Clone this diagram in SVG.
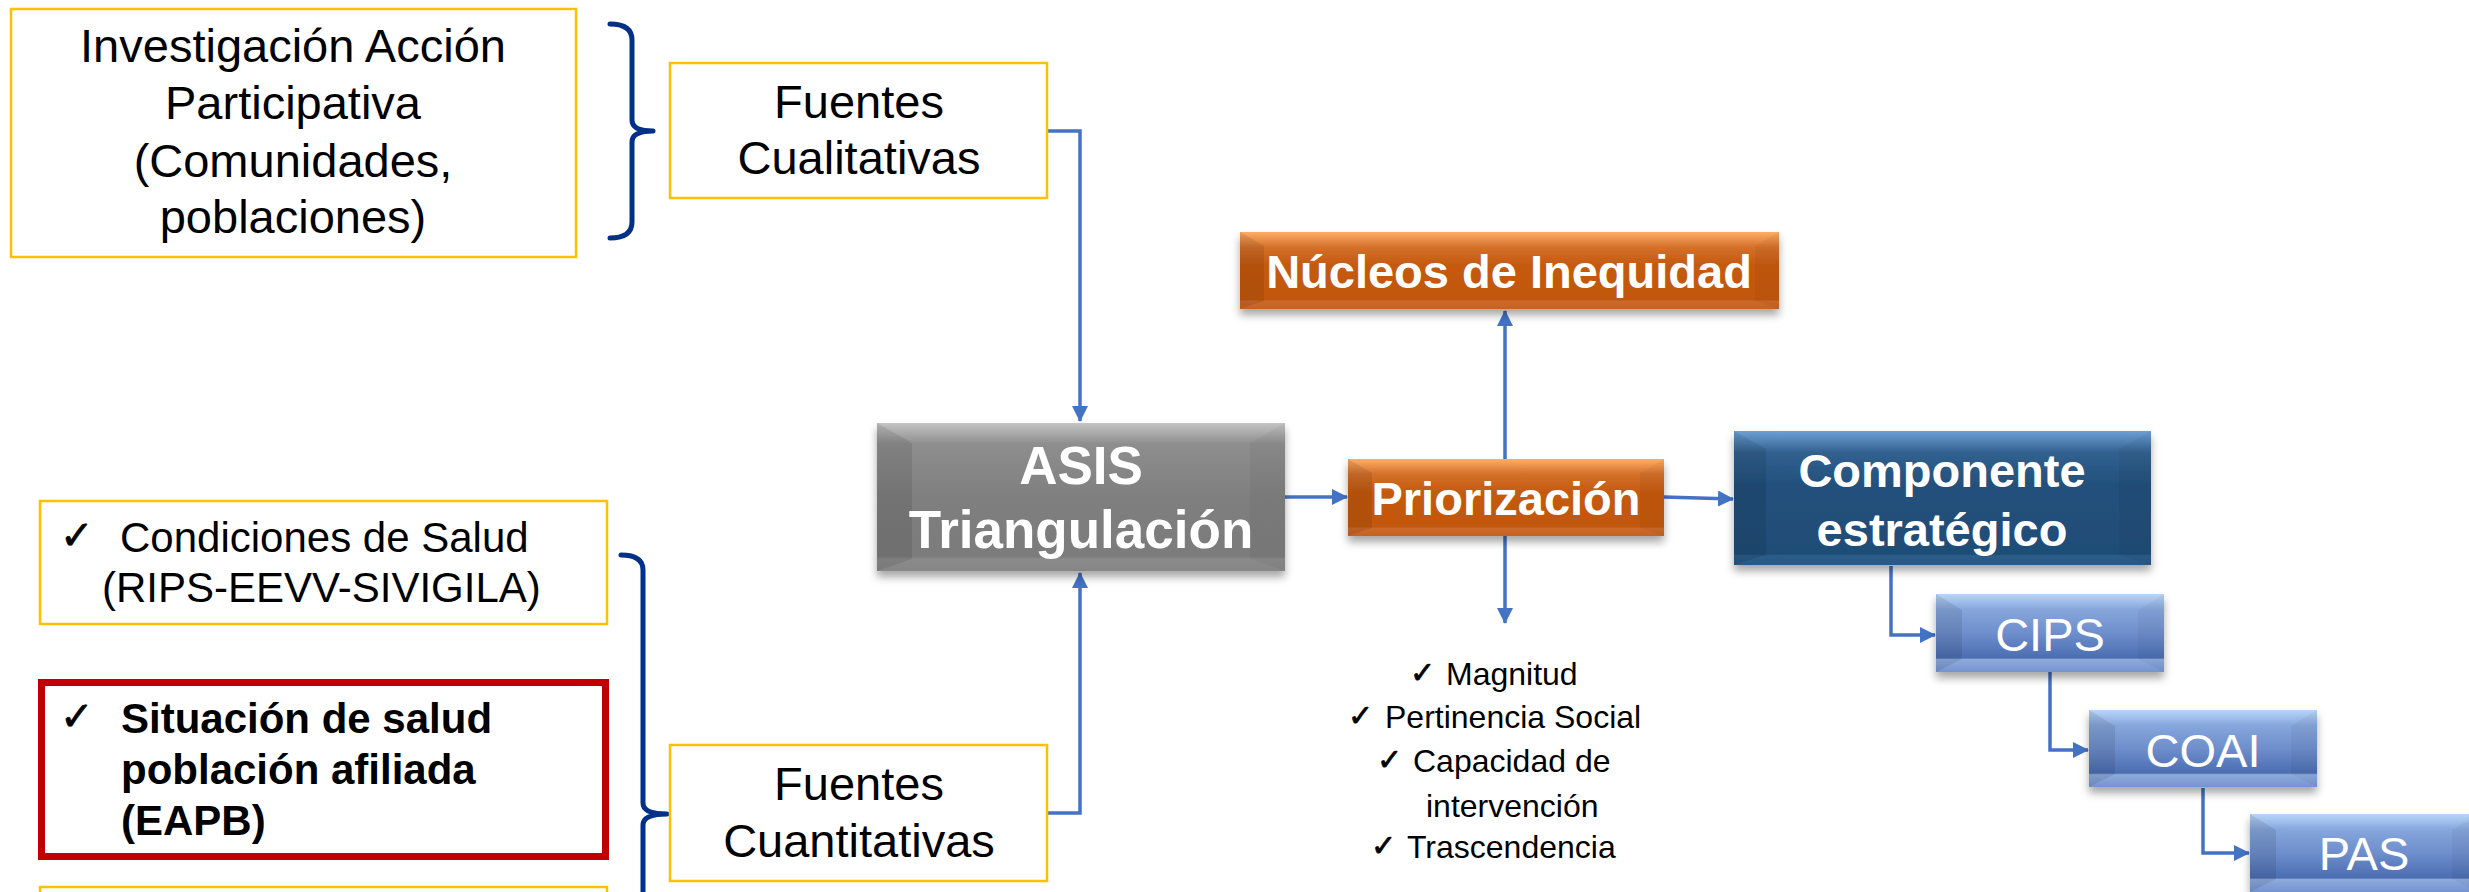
<svg xmlns="http://www.w3.org/2000/svg" width="2469" height="892" viewBox="0 0 2469 892">
<defs>
<style>
.ybox{fill:#fff;stroke:#FFC000;stroke-width:2.5}
.t{font-family:"Liberation Sans",Arial,sans-serif;fill:#000}
.w{font-family:"Liberation Sans",Arial,sans-serif;fill:#fff}
.b{font-weight:bold}
.chk{font-family:"DejaVu Sans",sans-serif;fill:#000;stroke:#000;stroke-width:0.8}
.brace{fill:none;stroke:#003087;stroke-width:5;stroke-linecap:round;stroke-linejoin:round}
.con{fill:none;stroke:#4472C4;stroke-width:3.5}
.dk{fill:#000;opacity:0.09}
.lt{fill:#000;opacity:0.04}
</style>
<marker id="ah" markerUnits="userSpaceOnUse" markerWidth="16" markerHeight="16" viewBox="0 0 16 16" refX="15" refY="8" orient="auto">
<path d="M0,0 L16,8 L0,16 z" fill="#4472C4"/>
</marker>
<filter id="sh" x="-10%" y="-20%" width="120%" height="150%">
<feDropShadow dx="0" dy="6" stdDeviation="4" flood-color="#000" flood-opacity="0.35"/>
</filter>
<linearGradient id="gGray" x1="0" y1="0" x2="0" y2="1">
<stop offset="0" stop-color="#C4C4C4"/><stop offset="0.14" stop-color="#8E8E8E"/><stop offset="0.5" stop-color="#7F7F7F"/><stop offset="0.9" stop-color="#7B7B7B"/><stop offset="0.92" stop-color="#8B8B8B"/><stop offset="1" stop-color="#868686"/>
</linearGradient>
<linearGradient id="gOr" x1="0" y1="0" x2="0" y2="1">
<stop offset="0" stop-color="#FFAD66"/><stop offset="0.2" stop-color="#D3702A"/><stop offset="0.42" stop-color="#C55A11"/><stop offset="0.88" stop-color="#C25810"/><stop offset="0.9" stop-color="#CB6A2C"/><stop offset="1" stop-color="#C76221"/>
</linearGradient>
<linearGradient id="gDb" x1="0" y1="0" x2="0" y2="1">
<stop offset="0" stop-color="#6FA0D5"/><stop offset="0.16" stop-color="#31618F"/><stop offset="0.4" stop-color="#23507C"/><stop offset="0.92" stop-color="#1F4D77"/><stop offset="0.93" stop-color="#2D5C89"/><stop offset="1" stop-color="#2A5886"/>
</linearGradient>
<linearGradient id="gLb" x1="0" y1="0" x2="0" y2="1">
<stop offset="0" stop-color="#B8D6FA"/><stop offset="0.2" stop-color="#86A6DC"/><stop offset="0.5" stop-color="#6E8ECC"/><stop offset="0.82" stop-color="#4B6DB1"/><stop offset="0.84" stop-color="#8EABDD"/><stop offset="1" stop-color="#7593CF"/>
</linearGradient>
</defs>
<rect width="2469" height="892" fill="#fff"/>

<g id="braces">
<path class="brace" d="M610,24 Q632,24 632,40 L632,120 Q632,131 653,131 Q632,131 632,142 L632,222 Q632,238 610,238"/>
<path class="brace" d="M621,555 Q643,555 643,570 L643,803 Q643,814 667,814 Q643,814 643,825 L643,900"/>
</g>

<g id="connectors">
<path class="con" d="M1047,131 H1080 V421" marker-end="url(#ah)"/>
<path class="con" d="M1047,813 H1080 V573" marker-end="url(#ah)"/>
<path class="con" d="M1285,497 H1347" marker-end="url(#ah)"/>
<path class="con" d="M1505,459 V311" marker-end="url(#ah)"/>
<path class="con" d="M1505,536 V623" marker-end="url(#ah)"/>
<path class="con" d="M1664,497 L1733,499" marker-end="url(#ah)"/>
<path class="con" d="M1891,566 V635 H1935" marker-end="url(#ah)"/>
<path class="con" d="M2050,672 V750 H2088" marker-end="url(#ah)"/>
<path class="con" d="M2203,788 V853 H2249" marker-end="url(#ah)"/>
</g>

<g id="iap">
<rect class="ybox" x="11" y="9" width="565" height="248"/>
<text class="t" font-size="47" text-anchor="middle"><tspan x="293" y="62">Investigación Acción</tspan><tspan x="293" y="119">Participativa</tspan><tspan x="293" y="177">(Comunidades,</tspan><tspan x="293" y="233">poblaciones)</tspan></text>
</g>

<g id="fuentes-cualitativas">
<rect class="ybox" x="670" y="63" width="377" height="135"/>
<text class="t" font-size="47" text-anchor="middle"><tspan x="859" y="118">Fuentes</tspan><tspan x="859" y="174">Cualitativas</tspan></text>
</g>

<g id="condiciones">
<rect class="ybox" x="40" y="501" width="567" height="123"/>
<text class="chk" font-size="40" x="60" y="549">✓</text>
<text class="t" font-size="42" x="120" y="552">Condiciones de Salud</text>
<text class="t" font-size="42" x="102" y="602">(RIPS-EEVV-SIVIGILA)</text>
</g>

<g id="situacion">
<rect x="41.5" y="682.5" width="564" height="174" fill="#fff" stroke="#C00000" stroke-width="7"/>
<text class="chk" font-size="40" x="60" y="730">✓</text>
<text class="t b" font-size="42"><tspan x="121" y="733">Situación de salud</tspan><tspan x="121" y="784">población afiliada</tspan><tspan x="121" y="835">(EAPB)</tspan></text>
</g>

<g id="otra-fuente">
<rect class="ybox" x="40" y="887" width="567" height="40"/>
</g>

<g id="fuentes-cuantitativas">
<rect class="ybox" x="670" y="745" width="377" height="136"/>
<text class="t" font-size="47" text-anchor="middle"><tspan x="859" y="800">Fuentes</tspan><tspan x="859" y="857">Cuantitativas</tspan></text>
</g>

<g id="asis">
<g filter="url(#sh)"><rect x="877" y="423" width="408" height="148" fill="url(#gGray)"/></g>
<polygon class="dk" points="877,423 912,443 912,559 877,571"/>
<polygon class="lt" points="1285,423 1250,443 1250,559 1285,571"/>
<text class="w b" font-size="53" text-anchor="middle"><tspan x="1081" y="484">ASIS</tspan><tspan x="1081" y="548">Triangulación</tspan></text>
</g>

<g id="nucleos">
<g filter="url(#sh)"><rect x="1240" y="232" width="539" height="77" fill="url(#gOr)"/></g>
<polygon class="dk" points="1240,232 1264,246 1264,301 1240,309"/>
<polygon class="lt" points="1779,232 1755,246 1755,301 1779,309"/>
<text class="w b" font-size="47" text-anchor="middle" x="1509" y="288">Núcleos de Inequidad</text>
</g>

<g id="priorizacion">
<g filter="url(#sh)"><rect x="1348" y="459" width="316" height="77" fill="url(#gOr)"/></g>
<polygon class="dk" points="1348,459 1372,473 1372,528 1348,536"/>
<polygon class="lt" points="1664,459 1640,473 1640,528 1664,536"/>
<text class="w b" font-size="47" text-anchor="middle" x="1506" y="515">Priorización</text>
</g>

<g id="criterios">
<text class="chk" font-size="30" x="1410" y="683">✓</text>
<text class="t" font-size="32" x="1446" y="685">Magnitud</text>
<text class="chk" font-size="30" x="1348" y="726">✓</text>
<text class="t" font-size="32" x="1385" y="728">Pertinencia Social</text>
<text class="chk" font-size="30" x="1377" y="770">✓</text>
<text class="t" font-size="32" x="1413" y="772">Capacidad de</text>
<text class="t" font-size="32" x="1426" y="817">intervención</text>
<text class="chk" font-size="30" x="1371" y="856">✓</text>
<text class="t" font-size="32" x="1407" y="858">Trascendencia</text>
</g>

<g id="componente">
<g filter="url(#sh)"><rect x="1734" y="431" width="417" height="134" fill="url(#gDb)"/></g>
<polygon class="dk" points="1734,431 1766,449 1766,555 1734,565"/>
<polygon class="lt" points="2151,431 2119,449 2119,555 2151,565"/>
<text class="w b" font-size="47" text-anchor="middle"><tspan x="1942" y="487">Componente</tspan><tspan x="1942" y="546">estratégico</tspan></text>
</g>

<g id="cips">
<g filter="url(#sh)"><rect x="1936" y="594" width="228" height="78" fill="url(#gLb)"/></g>
<polygon class="dk" points="1936,594 1962,610 1962,659 1936,672"/>
<polygon class="lt" points="2164,594 2138,610 2138,659 2164,672"/>
<text class="w" font-size="47" text-anchor="middle" x="2050" y="651">CIPS</text>
</g>

<g id="coai">
<g filter="url(#sh)"><rect x="2089" y="710" width="228" height="77" fill="url(#gLb)"/></g>
<polygon class="dk" points="2089,710 2115,726 2115,774 2089,787"/>
<polygon class="lt" points="2317,710 2291,726 2291,774 2317,787"/>
<text class="w" font-size="47" text-anchor="middle" x="2203" y="767">COAI</text>
</g>

<g id="pas">
<g filter="url(#sh)"><rect x="2250" y="814" width="228" height="78" fill="url(#gLb)"/></g>
<polygon class="dk" points="2250,814 2276,830 2276,879 2250,892"/>
<polygon class="lt" points="2478,814 2452,830 2452,879 2478,892"/>
<text class="w" font-size="47" text-anchor="middle" x="2364" y="870">PAS</text>
</g>
</svg>
